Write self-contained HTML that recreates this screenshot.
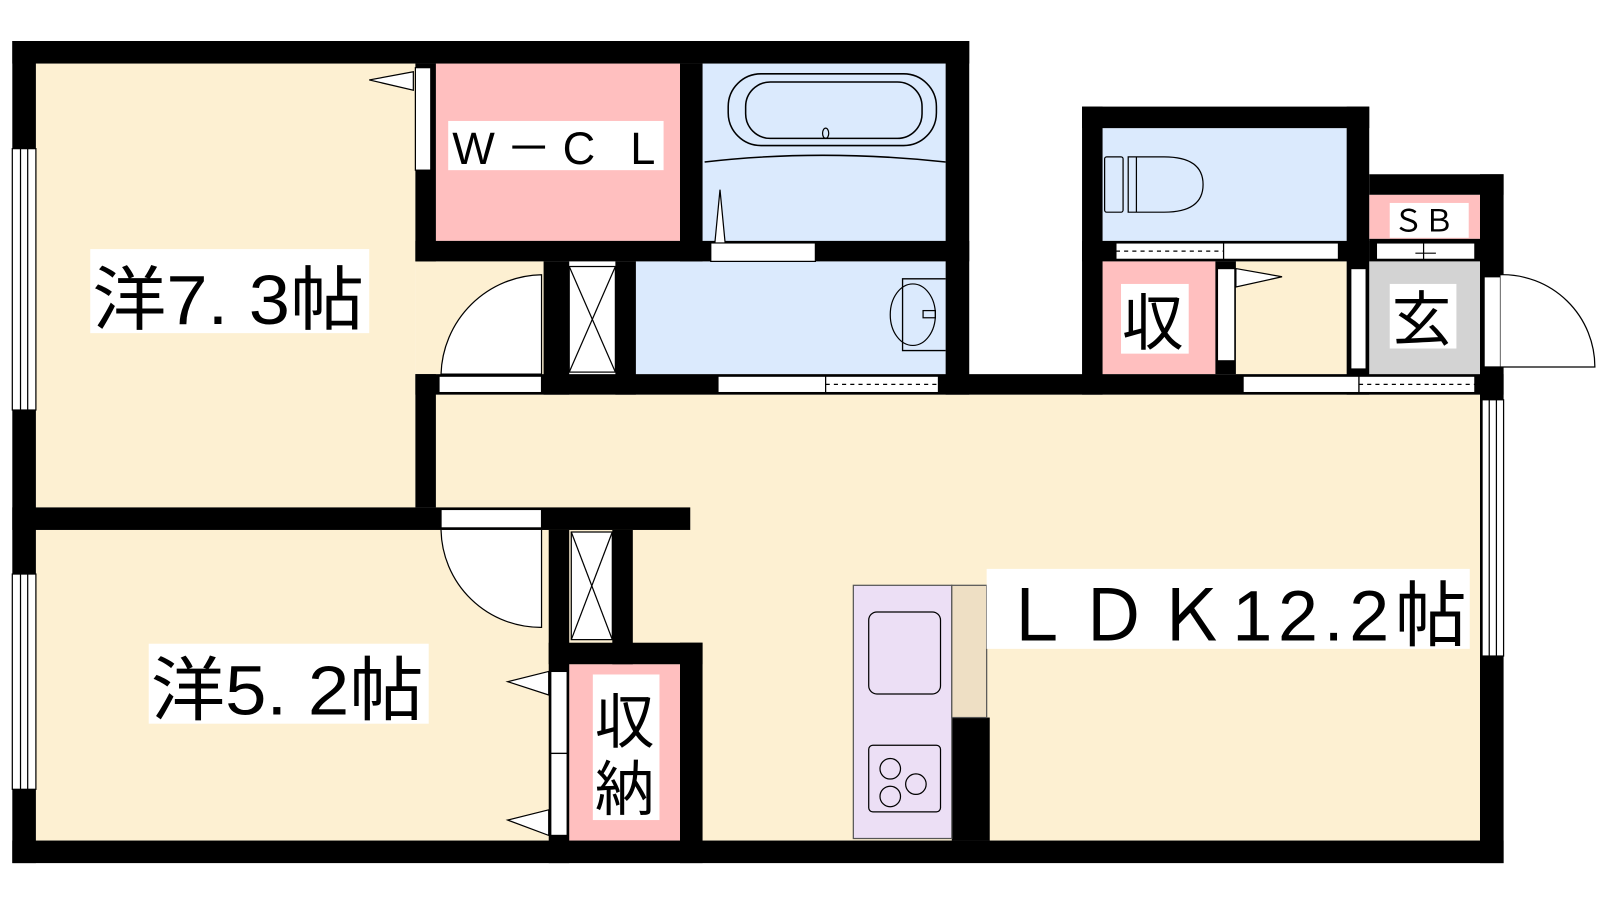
<!DOCTYPE html>
<html><head><meta charset="utf-8"><style>
html,body{margin:0;padding:0;background:#fff;width:1600px;height:900px;overflow:hidden}
svg{display:block}
text{font-family:"Liberation Sans","Noto Sans CJK JP",sans-serif;fill:#000}
</style></head><body>
<svg width="1600" height="900" viewBox="0 0 1560 878" preserveAspectRatio="none" xmlns="http://www.w3.org/2000/svg">
<rect x="35" y="62" width="370" height="433" fill="#fdf0d2"/>
<rect x="405" y="255" width="130" height="110" fill="#fdf0d2"/>
<rect x="425" y="385" width="1020" height="435" fill="#fdf0d2"/>
<rect x="620" y="517" width="325" height="303" fill="#fdf0d2"/>
<rect x="35" y="517" width="500" height="303" fill="#fdf0d2"/>
<rect x="425" y="62" width="238" height="173" fill="#ffbfbf"/>
<rect x="685" y="62" width="237" height="175" fill="#dbeafd"/>
<rect x="620" y="255" width="302" height="110" fill="#dbeafd"/>
<rect x="1075" y="125" width="238" height="110" fill="#dbeafd"/>
<rect x="1075" y="255" width="110" height="110" fill="#ffbfbf"/>
<rect x="1205" y="255" width="108" height="110" fill="#fdf0d2"/>
<rect x="1335" y="190" width="108" height="43" fill="#ffbfbf"/>
<rect x="1335" y="255" width="108" height="110" fill="#d3d3d3"/>
<rect x="555" y="648" width="108" height="172" fill="#ffbfbf"/>
<g fill="#000">
<rect x="12" y="40" width="933" height="22"/>
<rect x="12" y="40" width="23" height="802"/>
<rect x="12" y="820" width="1454" height="22"/>
<rect x="922" y="40" width="23" height="345"/>
<rect x="405" y="62" width="20" height="193"/>
<rect x="405" y="365" width="20" height="130"/>
<rect x="663" y="62" width="22" height="193"/>
<rect x="405" y="235" width="540" height="20"/>
<rect x="530" y="255" width="25" height="130"/>
<rect x="600" y="255" width="20" height="130"/>
<rect x="405" y="365" width="1061" height="20"/>
<rect x="12" y="495" width="661" height="22"/>
<rect x="535" y="517" width="20" height="325"/>
<rect x="597" y="517" width="20" height="131"/>
<rect x="535" y="627" width="150" height="21"/>
<rect x="663" y="627" width="22" height="215"/>
<rect x="1055" y="104" width="280" height="21"/>
<rect x="1055" y="104" width="20" height="281"/>
<rect x="1313" y="104" width="22" height="281"/>
<rect x="1055" y="235" width="280" height="20"/>
<rect x="1335" y="170" width="131" height="20"/>
<rect x="1443" y="170" width="23" height="672"/>
<rect x="1335" y="233" width="108" height="22"/>
<rect x="1185" y="255" width="20" height="110"/>
<rect x="928" y="700" width="37" height="120"/>
</g>
<g fill="#fff" stroke="#000" stroke-width="1.2">
<rect x="12" y="145" width="23" height="255"/><line x1="20" y1="145" x2="20" y2="400"/><line x1="27" y1="145" x2="27" y2="400"/>
<rect x="12" y="560" width="23" height="210"/><line x1="20" y1="560" x2="20" y2="770"/><line x1="27" y1="560" x2="27" y2="770"/>
<rect x="1445" y="390" width="21" height="250"/><line x1="1452" y1="390" x2="1452" y2="640"/><line x1="1459" y1="390" x2="1459" y2="640"/>
<rect x="405" y="66" width="15" height="100"/>
<rect x="428" y="367" width="100" height="16"/>
<rect x="430" y="497" width="98" height="18"/>
<rect x="693" y="237" width="102" height="18"/>
<rect x="700" y="367" width="105" height="16"/><rect x="805" y="367" width="110" height="16"/>
<rect x="1088" y="237" width="105" height="16"/><rect x="1193" y="237" width="112" height="16"/>
<rect x="1342" y="237" width="96" height="16"/>
<rect x="1212" y="367" width="113" height="16"/><rect x="1325" y="367" width="113" height="16"/>
<rect x="1187" y="262" width="17" height="90"/>
<rect x="1317" y="262" width="15" height="98"/>
<rect x="1447" y="270" width="16" height="88"/>
<rect x="537" y="655" width="16" height="80"/><rect x="537" y="735" width="16" height="80"/>
<rect x="555" y="260" width="45" height="103"/><rect x="557" y="519" width="40" height="105"/>
</g>
<g stroke="#000" stroke-width="1.2" fill="none">
<line x1="555" y1="260" x2="600" y2="363"/><line x1="600" y1="260" x2="555" y2="363"/>
<line x1="557" y1="519" x2="597" y2="624"/><line x1="597" y1="519" x2="557" y2="624"/>
<line x1="805" y1="375" x2="915" y2="375" stroke-dasharray="4,4"/>
<line x1="1088" y1="245" x2="1193" y2="245" stroke-dasharray="4,4"/>
<line x1="1325" y1="375" x2="1438" y2="375" stroke-dasharray="4,4"/>
<line x1="1388" y1="237" x2="1388" y2="253"/><line x1="1380" y1="247" x2="1400" y2="247"/>
<path d="M528 268 A100 100 0 0 0 430 365 L528 365 Z" fill="#fff"/>
<path d="M430 517 A97 97 0 0 0 528 612 L528 517" fill="#fff"/>
<path d="M1463 268 A90 90 0 0 1 1555 358 L1463 358" fill="#fff"/>
<polygon points="403,70 360,78 403,88" fill="#fff"/>
<polygon points="1205,262 1250,270 1205,280" fill="#fff"/>
<polygon points="535,655 495,665 535,678" fill="#fff"/>
<polygon points="535,790 495,800 535,815" fill="#fff"/>
<polygon points="697,237 702,185 707,237" fill="#fff"/>
<rect x="710" y="72" width="203" height="70" rx="32" stroke-width="1.5"/>
<rect x="727" y="80" width="172" height="55" rx="24" stroke-width="1.5"/>
<ellipse cx="805" cy="130" rx="3" ry="5"/>
<path d="M687 158 Q800 145 922 158" stroke-width="1.5"/>
<path d="M922 272 L880 272 L880 342 L922 342" stroke-width="1.3"/>
<ellipse cx="890" cy="307" rx="22" ry="30"/>
<rect x="900" y="303" width="12" height="7"/>
<rect x="1077" y="153" width="18" height="54" rx="2"/>
<path d="M1100 153 L1135 153 Q1173 153 1173 180 Q1173 207 1135 207 L1100 207 Z"/>
<line x1="1108" y1="153" x2="1108" y2="207"/>
<rect x="832" y="571" width="96" height="247" fill="#ecdff5" stroke="#555"/>
<rect x="928" y="571" width="34" height="129" fill="#eedfc4" stroke="#555"/>
<rect x="847" y="597" width="70" height="80" rx="8"/>
<rect x="847" y="727" width="70" height="65" rx="4"/>
<circle cx="868" cy="750" r="10"/><circle cx="893" cy="765" r="10"/><circle cx="868" cy="777" r="10"/>
</g>
<g fill="#fff">
<rect x="88" y="243" width="272" height="82"/>
<rect x="437" y="118" width="210" height="48"/>
<rect x="145" y="628" width="273" height="78"/>
<rect x="962" y="555" width="471" height="78"/>
<rect x="1093" y="277" width="66" height="68"/>
<rect x="1355" y="277" width="65" height="63"/>
<rect x="1355" y="198" width="77" height="34"/>
<rect x="578" y="658" width="65" height="142"/>
</g>
<text x="90" y="316" font-size="68" textLength="265" lengthAdjust="spacingAndGlyphs">洋7. 3帖</text>
<text x="441" y="160" font-size="44" textLength="198" lengthAdjust="spacing">W－C L</text>
<text x="147" y="697" font-size="68" textLength="266" lengthAdjust="spacingAndGlyphs">洋5. 2帖</text>
<text x="975" y="625" font-size="70" textLength="455">ＬＤＫ12.2帖</text>
<text x="1094" y="336" font-size="60">収</text>
<text x="1357" y="332" font-size="58">玄</text>
<text x="1358" y="226" font-size="30">ＳＢ</text>
<text x="580" y="725" font-size="58">収</text>
<text x="580" y="790" font-size="58">納</text>
</svg>
</body></html>
